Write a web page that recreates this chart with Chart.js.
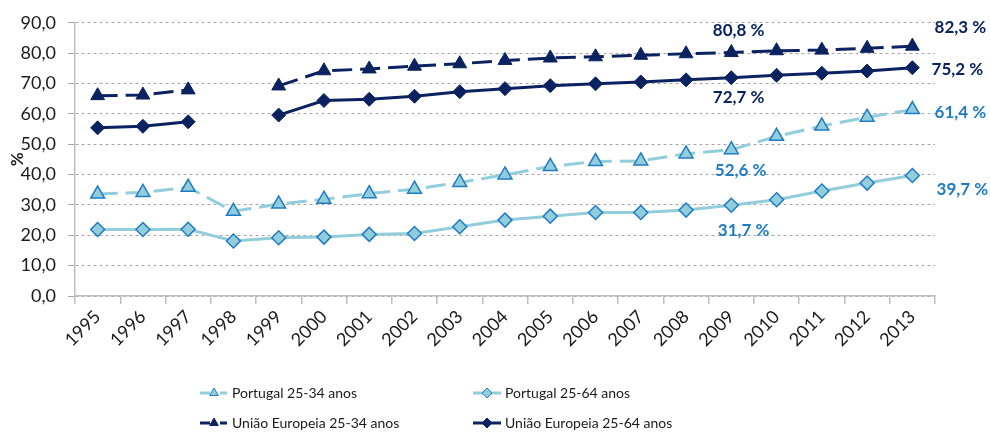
<!DOCTYPE html>
<html>
<head>
<meta charset="utf-8">
<script src="https://cdn.jsdelivr.net/npm/chart.js@4"></script>
<style>
  html, body { margin: 0; padding: 0; background: #fff; }
</style>
</head>
<body>
<canvas id="chart" width="990" height="432"></canvas>
<script>
/* values */
const years = ['1995', '1996', '1997', '1998', '1999', '2000', '2001', '2002', '2003', '2004',
               '2005', '2006', '2007', '2008', '2009', '2010', '2011', '2012', '2013'];
const ptYoung = [33.6, 34.1, 35.8, 27.9, 30.3, 31.9, 33.7, 35.2, 37.4, 39.9,
                 42.7, 44.3, 44.5, 46.8, 48.2, 52.6, 56.0, 58.9, 61.4];
const ptAll   = [21.9, 21.9, 22.0, 18.1, 19.2, 19.4, 20.3, 20.6, 22.8, 25.0,
                 26.3, 27.5, 27.5, 28.3, 29.9, 31.7, 34.6, 37.2, 39.7];
const euYoung = [66.0, 66.2, 67.9, null, 69.2, 74.2, 74.8, 75.7, 76.5, 77.6,
                 78.4, 78.8, 79.3, 79.8, 80.2, 80.8, 81.0, 81.6, 82.3];
const euAll   = [55.4, 55.9, 57.4, null, 59.6, 64.4, 64.8, 65.8, 67.3, 68.3,
                 69.3, 69.9, 70.5, 71.2, 71.9, 72.7, 73.4, 74.1, 75.2];
const seriesNames = ['Portugal 25-34 anos', 'Portugal 25-64 anos',
                     'União Europeia 25-34 anos', 'União Europeia 25-64 anos'];

const FONT = 'Lato, "Open Sans", sans-serif';
const NAVY = '#0b2260';
const LIGHT = '#92cddc';
const MID = '#1f7bc4';

function fmt(v) {
  return v.toFixed(1).replace('.', ',');
}

/* value labels: dataset, point index, offset from the point */
const valueLabels = [
  { ds: 2, idx: 15, dx: -38, dy: -20, color: NAVY },
  { ds: 3, idx: 15, dx: -38, dy: 22, color: NAVY },
  { ds: 0, idx: 15, dx: -36, dy: 34, color: MID },
  { ds: 1, idx: 15, dx: -33, dy: 31, color: MID },
  { ds: 2, idx: 18, dx: 48, dy: -19, color: NAVY },
  { ds: 3, idx: 18, dx: 45, dy: 2, color: NAVY },
  { ds: 0, idx: 18, dx: 48, dy: 3, color: MID },
  { ds: 1, idx: 18, dx: 50, dy: 14, color: MID }
];

const valueLabelPlugin = {
  id: 'valueLabels',
  afterDatasetsDraw(chart) {
    const ctx = chart.ctx;
    ctx.save();
    ctx.font = 'bold 17px ' + FONT;
    ctx.textAlign = 'center';
    ctx.textBaseline = 'middle';
    valueLabels.forEach(l => {
      const el = chart.getDatasetMeta(l.ds).data[l.idx];
      const v = chart.data.datasets[l.ds].data[l.idx];
      ctx.fillStyle = l.color;
      ctx.fillText(fmt(v) + ' %', el.x + l.dx, el.y + l.dy);
    });
    ctx.restore();
  }
};

/* two-column legend under the axis */
const legendPlugin = {
  id: 'twoColLegend',
  afterDraw(chart) {
    const ctx = chart.ctx;
    const spots = [[200, 393], [473, 393], [200, 423], [473, 423]];
    chart.data.datasets.forEach((ds, i) => {
      const [x, y] = spots[i];
      ctx.save();
      ctx.strokeStyle = ds.borderColor;
      ctx.lineWidth = 3;
      ctx.beginPath();
      if (ds.borderDash) {
        ctx.moveTo(x, y); ctx.lineTo(x + 10, y);
        ctx.moveTo(x + 20, y); ctx.lineTo(x + 27, y);
      } else {
        ctx.moveTo(x, y); ctx.lineTo(x + 28, y);
      }
      ctx.stroke();
      ctx.fillStyle = ds.pointBackgroundColor;
      ctx.strokeStyle = ds.pointBorderColor;
      ctx.lineWidth = 1;
      Chart.helpers.drawPoint(ctx, {
        pointStyle: ds.pointStyle, radius: 5, rotation: 0, borderWidth: 1
      }, x + 14, y);
      ctx.fillStyle = '#1a1a1a';
      ctx.font = '14px ' + FONT;
      ctx.textAlign = 'left';
      ctx.textBaseline = 'middle';
      ctx.fillText(ds.label, x + 32, y);
      ctx.restore();
    });
  }
};

new Chart(document.getElementById('chart'), {
  type: 'line',
  data: {
    labels: years,
    datasets: [
      {
        label: seriesNames[0],
        data: ptYoung,
        borderColor: LIGHT,
        borderWidth: 3,
        borderDash: [20, 8],
        pointStyle: 'triangle',
        pointRadius: 8,
        pointBackgroundColor: LIGHT,
        pointBorderColor: MID,
        pointBorderWidth: 1.5
      },
      {
        label: seriesNames[1],
        data: ptAll,
        borderColor: LIGHT,
        borderWidth: 3,
        pointStyle: 'rectRot',
        pointRadius: 7,
        pointBackgroundColor: LIGHT,
        pointBorderColor: MID,
        pointBorderWidth: 1.5
      },
      {
        label: seriesNames[2],
        data: euYoung,
        borderColor: NAVY,
        borderWidth: 3,
        borderDash: [20, 8],
        pointStyle: 'triangle',
        pointRadius: 8,
        pointBackgroundColor: NAVY,
        pointBorderColor: NAVY,
        pointBorderWidth: 1
      },
      {
        label: seriesNames[3],
        data: euAll,
        borderColor: NAVY,
        borderWidth: 3,
        pointStyle: 'rectRot',
        pointRadius: 7,
        pointBackgroundColor: NAVY,
        pointBorderColor: NAVY,
        pointBorderWidth: 1
      }
    ]
  },
  options: {
    responsive: false,
    animation: false,
    devicePixelRatio: 1,
    spanGaps: false,
    layout: { padding: { top: 22, right: 55, left: 0, bottom: 0 } },
    plugins: {
      legend: { display: false },
      tooltip: { enabled: false }
    },
    scales: {
      x: {
        offset: true,
        grid: { offset: true, drawOnChartArea: false, tickLength: 8, color: '#bfbfbf', lineWidth: 1.5 },
        border: { color: '#bfbfbf', width: 1.5 },
        ticks: { minRotation: 45, maxRotation: 45, padding: 2, color: '#1a1a1a', font: { family: FONT, size: 18 } },
        afterFit: s => { s.height = 136; }
      },
      y: {
        min: 0,
        max: 90,
        grid: { color: '#a6a6a6', lineWidth: 1, tickLength: 7, tickColor: '#a6a6a6' },
        border: { color: '#bfbfbf', width: 1.5, dash: [3, 3] },
        ticks: {
          stepSize: 10, padding: 12, color: '#1a1a1a',
          font: { family: FONT, size: 18 },
          callback: v => fmt(v)
        },
        title: {
          display: true, text: '%', color: '#1a1a1a',
          font: { family: FONT, size: 17, weight: 'bold' },
          padding: { top: 7, bottom: 0 }
        },
        afterFit: s => { s.width = 75; }
      }
    }
  },
  plugins: [valueLabelPlugin, legendPlugin]
});
</script>
</body>
</html>
